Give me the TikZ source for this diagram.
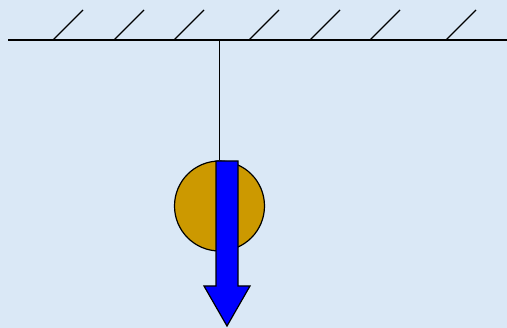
\documentclass[tikz,border=0pt]{standalone}
\usepackage{tikz}
\usetikzlibrary{
    positioning,
    arrows.meta
}
\definecolor{SkyBack}{RGB}{218,232,246}
\definecolor{BobGold}{RGB}{204,153,0}
\definecolor{ForceBlue}{RGB}{0,0,255}

\begin{document}
\begin{tikzpicture}[
    x=1pt, y=-1pt,
    ceil/.style={draw=black, line width=1.6pt},
    hatch/.style={draw=black, line width=1.4pt},
    string/.style={draw=black, line width=0.9pt},
    bobstyle/.style={circle, draw=black, line width=1.2pt, fill=BobGold, minimum size=90pt, inner sep=0pt},
    force/.style={draw=black, line width=1.2pt, fill=ForceBlue, line join=miter},
]
% fond
\fill[SkyBack] (0,0) rectangle (507,328);
\useasboundingbox (0,0) rectangle (507,328);

% plafond
\coordinate (cl) at (8,40);
\coordinate (cr) at (507,40);
\draw[ceil] (cl) -- (cr);
\foreach \hx in {53,114,174,249,310,370,446}
    \draw[hatch] (\hx,40) -- ++(30,-30);

% fil et masse
\coordinate (hook) at (219.5,40);
\node[bobstyle] (bob) at (219.5,206) {};
\draw[string] (hook) -- (bob.north);

% poids
\draw[force] (216,161) -- (238,161) -- (238,286) -- (250,286)
    -- (227,326) -- (204,286) -- (216,286) -- cycle;
\end{tikzpicture}
\end{document}
